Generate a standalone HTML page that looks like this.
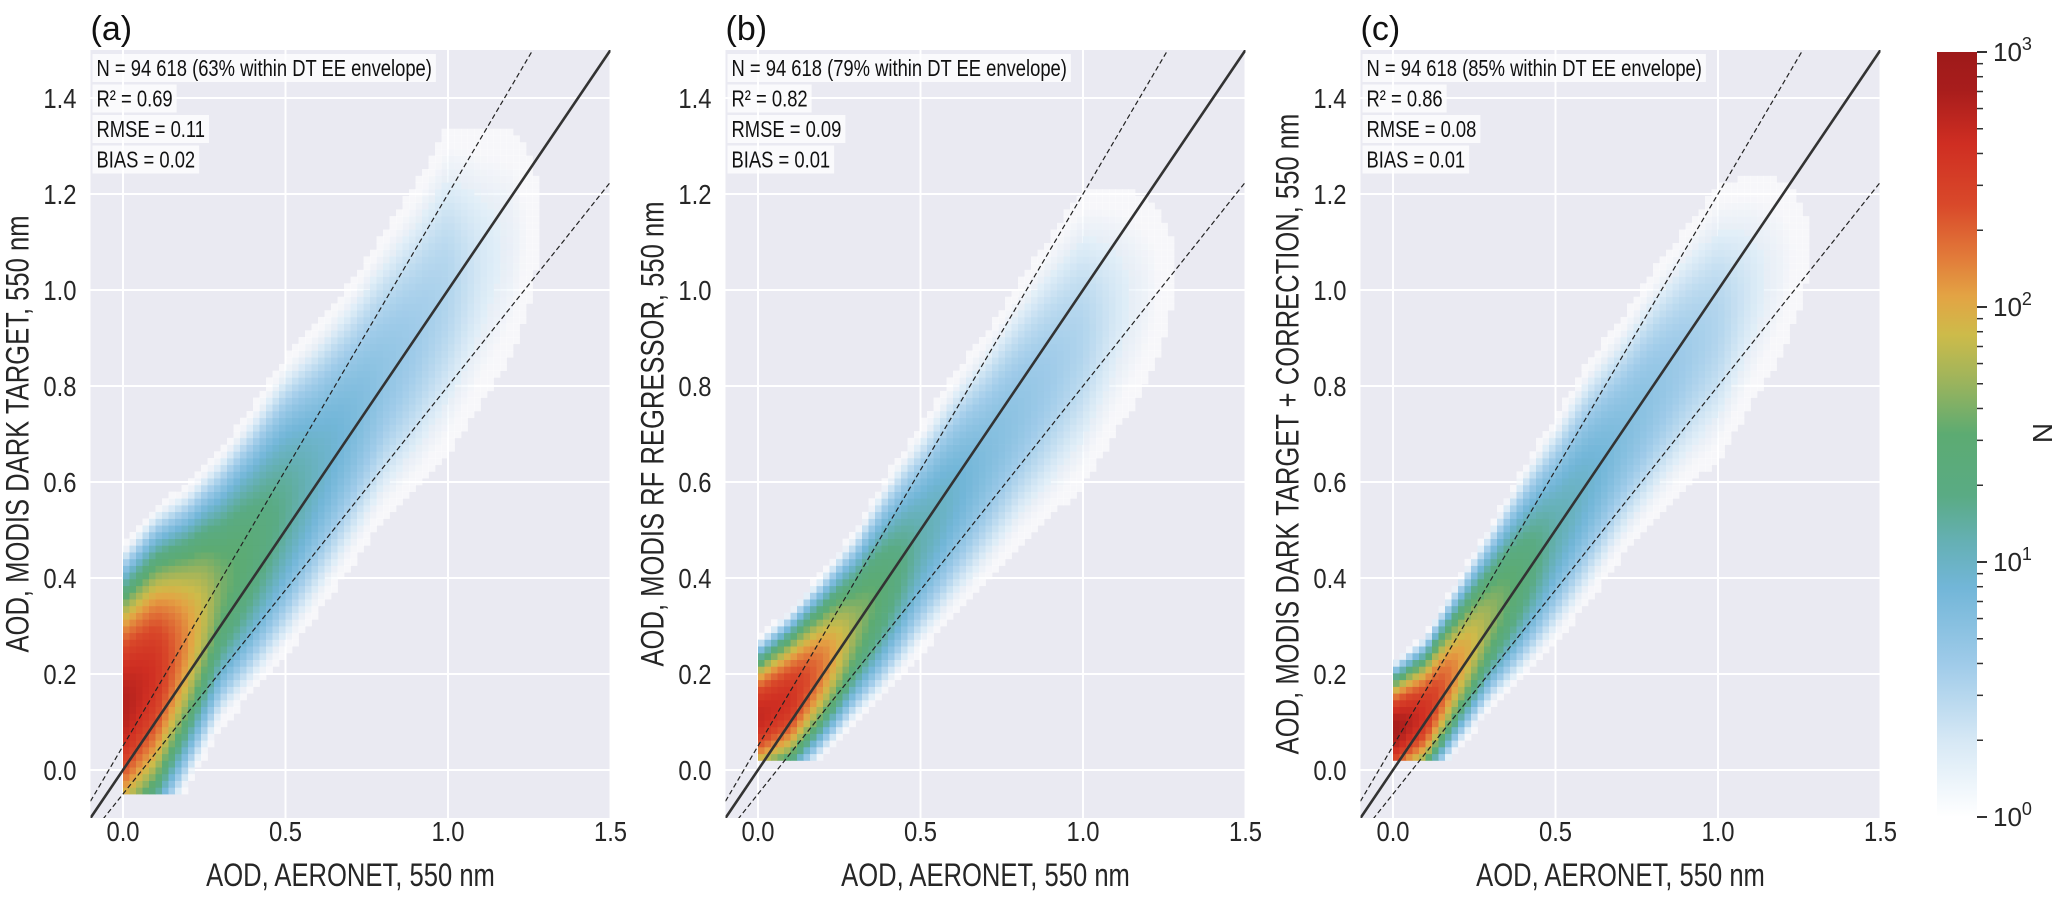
<!DOCTYPE html>
<html><head><meta charset="utf-8"><style>
body{margin:0;background:#fff;}
svg{display:block;font-family:"Liberation Sans",sans-serif;}
</style></head><body>
<svg id="fig" width="2067" height="904" viewBox="0 0 2067 904" xmlns="http://www.w3.org/2000/svg"></svg>
<script>
// ---- data ----
const xTicks = [0.0, 0.5, 1.0, 1.5];
const xTickLabels = ["0.0", "0.5", "1.0", "1.5"];
const yTicks = [0.0, 0.2, 0.4, 0.6, 0.8, 1.0, 1.2, 1.4];
const yTickLabels = ["0.0", "0.2", "0.4", "0.6", "0.8", "1.0", "1.2", "1.4"];
const panelLetters = ["(a)", "(b)", "(c)"];
const yLabels = ["AOD, MODIS DARK TARGET, 550 nm", "AOD, MODIS RF REGRESSOR, 550 nm", "AOD, MODIS DARK TARGET + CORRECTION, 550 nm"];
const statN = ["N = 94 618 (63% within DT EE envelope)", "N = 94 618 (79% within DT EE envelope)", "N = 94 618 (85% within DT EE envelope)"];
const statR2 = ["R² = 0.69", "R² = 0.82", "R² = 0.86"];
const statRMSE = ["RMSE = 0.11", "RMSE = 0.09", "RMSE = 0.08"];
const statBias = ["BIAS = 0.02", "BIAS = 0.01", "BIAS = 0.01"];
// density description per AERONET column (anchors every 0.1)
const anchorX = [0.0, 0.1, 0.2, 0.3, 0.4, 0.5, 0.6, 0.7, 0.8, 0.9, 1.0, 1.1, 1.2, 1.3];
const centerA = [0.13, 0.20, 0.28, 0.38, 0.46, 0.55, 0.63, 0.72, 0.82, 0.90, 1.00, 1.05, 1.10, 1.15];
const spreadA = [0.14, 0.15, 0.15, 0.155, 0.17, 0.19, 0.20, 0.21, 0.23, 0.26, 0.30, 0.30, 0.30, 0.30];
const peakA   = [2.8, 2.6, 2.1, 1.6, 1.4, 1.2, 1.0, 0.85, 0.7, 0.6, 0.5, 0.3, 0.15, -0.2];
const centerB = [0.11, 0.15, 0.22, 0.30, 0.39, 0.48, 0.57, 0.65, 0.74, 0.82, 0.90, 0.96, 1.00, 1.05];
const spreadB = [0.07, 0.08, 0.09, 0.105, 0.13, 0.15, 0.17, 0.19, 0.21, 0.24, 0.27, 0.27, 0.27, 0.27];
const peakB   = [2.7, 2.6, 2.2, 1.7, 1.4, 1.1, 0.95, 0.8, 0.7, 0.6, 0.5, 0.3, 0.1, -0.2];
const centerC = [0.08, 0.12, 0.22, 0.32, 0.41, 0.50, 0.60, 0.69, 0.78, 0.86, 0.93, 1.00, 1.05, 1.10];
const spreadC = [0.06, 0.07, 0.085, 0.10, 0.125, 0.15, 0.17, 0.18, 0.20, 0.22, 0.25, 0.25, 0.25, 0.25];
const peakC   = [2.9, 2.6, 2.1, 1.7, 1.4, 1.1, 0.95, 0.8, 0.7, 0.6, 0.5, 0.3, 0.1, -0.2];
const yMinData = [-0.05, 0.02, 0.02];
const cbTicks = [0, 1, 2, 3];
const cbTickLabels = ["0", "1", "2", "3"];

const centers = [centerA, centerB, centerC];
const spreads = [spreadA, spreadB, spreadC];
const peaks = [peakA, peakB, peakC];

// ---- layout ----
const NS = "http://www.w3.org/2000/svg";
const svg = document.getElementById("fig");
const panelX0 = [123, 758, 1393];
const PXU = 325, PYU = 480, Y0 = 770;
const XMIN = -0.1, XMAX = 1.5, YMIN = -0.1, YMAX = 1.5;
function el(tag, attrs, parent) {
  const e = document.createElementNS(NS, tag);
  for (const k in attrs) e.setAttribute(k, attrs[k]);
  (parent || svg).appendChild(e);
  return e;
}
function ctext(parent, str, x, y, size, anchor, rot, sx) {
  const t = el("text", {x:0, y:0, "font-size":size, fill:"#262626", "text-anchor":anchor,
    transform:"translate("+x+","+y+")"+(rot?" rotate("+rot+")":"")+" scale("+sx+",1)"}, parent);
  t.textContent = str;
  return t;
}
const stops = [[0,"#ffffff"],[0.1,"#d6e8f5"],[0.2,"#9fcbe9"],[0.3,"#72b6d8"],[0.36,"#65b0b4"],[0.42,"#5aab84"],[0.5,"#5cab72"],[0.57,"#9db45c"],[0.63,"#cdbb4a"],[0.68,"#e3a444"],[0.73,"#e27c3a"],[0.8,"#d9492a"],[0.88,"#cf2e22"],[0.95,"#a81d1c"],[1,"#9e1a1a"]];
function hex(c){return [parseInt(c.substr(1,2),16),parseInt(c.substr(3,2),16),parseInt(c.substr(5,2),16)];}
function cmap(t){
  t=Math.max(0,Math.min(1,t));
  for(let i=1;i<stops.length;i++){ if(t<=stops[i][0]){ const a=stops[i-1],b=stops[i]; const f=(t-a[0])/(b[0]-a[0]); const ca=hex(a[1]),cb=hex(b[1]); return "rgb("+ca.map((v,j)=>Math.round(v+(cb[j]-v)*f)).join(",")+")"; } }
  return stops[stops.length-1][1];
}
function interp(arr, x){
  if (x <= anchorX[0]) return arr[0];
  for (let i=1;i<anchorX.length;i++) if (x<=anchorX[i]) { const f=(x-anchorX[i-1])/(anchorX[i]-anchorX[i-1]); return arr[i-1]+(arr[i]-arr[i-1])*f; }
  return arr[arr.length-1];
}

for (let p=0;p<3;p++){
  const g = el("g",{});
  
  
  const sx = v => panelX0[p] + v*PXU;
  const sy = v => Y0 - v*PYU;
  const L=sx(XMIN), R=sx(XMAX), T=sy(YMAX), B=sy(YMIN);
  const bg = el("rect",{x:L,y:T,width:R-L,height:B-T,fill:"#eaeaf2"},g);
  
  
  xTicks.forEach(v=>{ const l=el("line",{x1:sx(v),x2:sx(v),y1:T,y2:B,stroke:"#fff","stroke-width":2},g);   });
  yTicks.forEach(v=>{ const l=el("line",{x1:L,x2:R,y1:sy(v),y2:sy(v),stroke:"#fff","stroke-width":2},g);   });
  // heatmap
  const hm = el("g",{},g);
  
  
  const bx=0.02, by=0.014;
  for (let x=0; x<1.4; x+=bx){
    const c=interp(centers[p],x+bx/2), s=interp(spreads[p],x+bx/2), pk=interp(peaks[p],x+bx/2);
    for (let y=yMinData[p]; y<1.5; y+=by){
      const d=(y+by/2-c)/s;
      const lg = pk - 0.5*d*d;
      if (lg < -0.15) continue;
      const r = el("rect",{x:sx(x).toFixed(1),y:sy(y+by).toFixed(1),width:(bx*PXU+0.4).toFixed(1),height:(by*PYU+0.4).toFixed(1),fill:cmap(Math.max(0,lg)/3)},hm);
      if (lg < 0.2) r.setAttribute("fill-opacity", "0.6");
      
      
    }
  }
  // lines
  const clip = el("clipPath",{id:"clip"+p},g);
  el("rect",{x:L,y:T,width:R-L,height:B-T},clip);
  const lg2 = el("g",{"clip-path":"url(#clip"+p+")"},g);
  const one = el("line",{x1:sx(-0.1),y1:sy(-0.1),x2:sx(1.5),y2:sy(1.5),stroke:"#333","stroke-width":2.6},lg2);
   
  const up = el("line",{x1:sx(-0.2),y1:sy(-0.2*1.15+0.05),x2:sx(1.5),y2:sy(1.5*1.15+0.05),stroke:"#222","stroke-width":1.2,"stroke-dasharray":"5,3"},lg2);
   
  const lo = el("line",{x1:sx(-0.2),y1:sy(-0.2*0.85-0.05),x2:sx(1.6),y2:sy(1.6*0.85-0.05),stroke:"#222","stroke-width":1.2,"stroke-dasharray":"5,3"},lg2);
   
  // ticks
  xTicks.forEach((v,i)=>{ const t=ctext(g,xTickLabels[i],sx(v),841,28,"middle",0,0.85);   });
  yTicks.forEach((v,i)=>{ const t=ctext(g,yTickLabels[i],L-14,sy(v)+10,28,"end",0,0.85);   });
  const xl=ctext(g,"AOD, AERONET, 550 nm",(L+R)/2,886,32,"middle",0,0.8);
   
  const yl=ctext(g,yLabels[p],L-62,(T+B)/2,32,"middle",-90,0.8);
   
  const pl=el("text",{x:L,y:40,"font-size":34,fill:"#111"},g); pl.textContent=panelLetters[p];
   
  // stats box
  const lines=[statN[p],statR2[p],statRMSE[p],statBias[p]];
  lines.forEach((s,i)=>{
    const yy=68+i*30.5;
    const bgr=el("rect",{x:L+2,y:yy-14,width:10,height:28,fill:"#fff","fill-opacity":0.75},g);
     
    const t=ctext(g,s,L+6,yy+8,23,"start",0,0.8); t.setAttribute("fill","#111");
     
    bgr.setAttribute("width", (t.getComputedTextLength()*0.8+8).toFixed(1));
  });
}
// colorbar
const cb = el("g",{});


const defs = el("defs",{},cb);
const grad = el("linearGradient",{id:"cbg",x1:0,y1:1,x2:0,y2:0},defs);
stops.forEach(s=>el("stop",{offset:s[0],"stop-color":s[1]},grad));
const CBT=52, CBB=817, CBL=1937, CBR=1977;
const cbr = el("rect",{x:CBL,y:CBT,width:CBR-CBL,height:CBB-CBT,fill:"url(#cbg)"},cb);
 
const cy = e => CBB - e/3*(CBB-CBT);
cbTicks.forEach((e,i)=>{
  const tk=el("line",{x1:CBR,x2:CBR+10,y1:cy(e),y2:cy(e),stroke:"#333","stroke-width":2},cb);
   
  const t=el("text",{x:CBR+16,y:cy(e)+9,"font-size":26,fill:"#262626"},cb);
  t.textContent="10";
  const sp=el("tspan",{dy:-11,"font-size":18},t); sp.textContent=cbTickLabels[i];
   
  if (e<3) for (let m=2;m<10;m++){ const v=e+Math.log10(m); const mt=el("line",{x1:CBR,x2:CBR+6,y1:cy(v),y2:cy(v),stroke:"#333","stroke-width":1.5},cb);   }
});
const nl=el("text",{x:0,y:0,"font-size":28,fill:"#262626","text-anchor":"middle",transform:"translate(2052,433) rotate(-90)"},cb);
nl.textContent="N";
 
</script>
</body></html>
